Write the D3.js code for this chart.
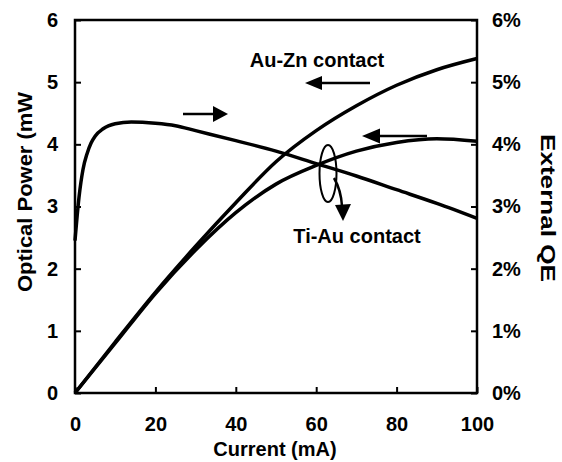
<!DOCTYPE html>
<html>
<head>
<meta charset="utf-8">
<script src="https://cdn.jsdelivr.net/npm/d3@7"></script>
<style>
  body { margin: 0; background: #fff; }
  text { font-family: "Liberation Sans", Arial, sans-serif; font-weight: bold; fill: #000; }
</style>
</head>
<body>
<div id="chart"></div>
<script>
// Data
const current = [0, 10, 20, 30, 40, 50, 60, 70, 80, 90, 100];
const powerAuZn = [0, 0.82, 1.62, 2.36, 3.06, 3.72, 4.22, 4.62, 4.95, 5.2, 5.38];
const powerTiAu = [0, 0.8, 1.6, 2.3, 2.9, 3.36, 3.66, 3.89, 4.03, 4.09, 4.05];

const qeCurrent = [0, 1, 2, 3, 4, 5, 7, 10, 14, 20, 25, 30, 40, 50, 60, 70, 80, 90, 100];
const qeValues = [0.0245, 0.0315, 0.036, 0.0385, 0.0402, 0.0413, 0.0425, 0.0433, 0.0436, 0.0434, 0.043, 0.0422, 0.0406, 0.0389, 0.0369, 0.0349, 0.0327, 0.0305, 0.0281];

const xTicks = [0, 20, 40, 60, 80, 100];
const yTicks = [0, 1, 2, 3, 4, 5, 6];
const y2Ticks = [0, 0.01, 0.02, 0.03, 0.04, 0.05, 0.06];

const width = 562, height = 462;
const margin = { top: 20, right: 85, bottom: 69, left: 75 };

const svg = d3.select("#chart")
  .append("svg")
  .attr("width", width)
  .attr("height", height);

// Scales
const x = d3.scaleLinear().domain([0, 100]).range([margin.left, width - margin.right]);
const y = d3.scaleLinear().domain([0, 6]).range([height - margin.bottom, margin.top]);
const y2 = d3.scaleLinear().domain([0, 0.06]).range([height - margin.bottom, margin.top]);

// Axes (ticks pointing inward)
const xAxis = svg.append("g")
  .attr("transform", "translate(0," + (height - margin.bottom) + ")")
  .call(d3.axisBottom(x).tickValues(xTicks).tickSize(-6).tickPadding(24));

const yAxis = svg.append("g")
  .attr("transform", "translate(" + margin.left + ",0)")
  .call(d3.axisLeft(y).tickValues(yTicks).tickSize(-6).tickPadding(17).tickFormat(d3.format("d")));

const y2Axis = svg.append("g")
  .attr("transform", "translate(" + (width - margin.right) + ",0)")
  .call(d3.axisRight(y2).tickValues(y2Ticks).tickSize(-6).tickPadding(15).tickFormat(d3.format(".0%")));

[xAxis, yAxis, y2Axis].forEach(function (g) {
  g.select(".domain").remove();
  g.selectAll(".tick line").attr("stroke", "#000").attr("stroke-width", 2);
  g.selectAll(".tick text").style("font-size", "20px").attr("fill", "#000");
});

// Frame
svg.append("rect")
  .attr("x", margin.left)
  .attr("y", margin.top)
  .attr("width", width - margin.left - margin.right)
  .attr("height", height - margin.top - margin.bottom)
  .attr("fill", "none")
  .attr("stroke", "#000")
  .attr("stroke-width", 2.5);

// Curves
const powerLine = d3.line()
  .x(function (d, i) { return x(current[i]); })
  .y(function (d) { return y(d); })
  .curve(d3.curveMonotoneX);

const qeLine = d3.line()
  .x(function (d, i) { return x(qeCurrent[i]); })
  .y(function (d) { return y2(d); })
  .curve(d3.curveMonotoneX);

[powerAuZn, powerTiAu].forEach(function (series) {
  svg.append("path")
    .datum(series)
    .attr("d", powerLine)
    .attr("fill", "none")
    .attr("stroke", "#000")
    .attr("stroke-width", 3.5);
});

svg.append("path")
  .datum(qeValues)
  .attr("d", qeLine)
  .attr("fill", "none")
  .attr("stroke", "#000")
  .attr("stroke-width", 3.5);

// Axis titles
svg.append("text")
  .attr("x", 275)
  .attr("y", 456)
  .attr("text-anchor", "middle")
  .style("font-size", "20px")
  .text("Current (mA)");

svg.append("text")
  .attr("transform", "translate(32,192) rotate(-90)")
  .attr("text-anchor", "middle")
  .attr("textLength", 200)
  .attr("lengthAdjust", "spacingAndGlyphs")
  .style("font-size", "20px")
  .text("Optical Power (mW");

svg.append("text")
  .attr("transform", "translate(541,208) rotate(90)")
  .attr("text-anchor", "middle")
  .attr("textLength", 148)
  .attr("lengthAdjust", "spacingAndGlyphs")
  .style("font-size", "20px")
  .text("External QE");

// Annotations
function arrow(x1, x2, yy, head, half) {
  const dir = x2 > x1 ? 1 : -1;
  svg.append("line")
    .attr("x1", x1).attr("y1", yy)
    .attr("x2", x2 - dir * head).attr("y2", yy)
    .attr("stroke", "#000").attr("stroke-width", 2.5);
  svg.append("path")
    .attr("d", "M" + x2 + "," + yy + "L" + (x2 - dir * head) + "," + (yy - half) + "L" + (x2 - dir * head) + "," + (yy + half) + "Z")
    .attr("fill", "#000");
}

svg.append("text")
  .attr("x", 317).attr("y", 67)
  .attr("text-anchor", "middle")
  .style("font-size", "20px")
  .text("Au-Zn contact");

arrow(370, 305, 83, 17, 7);
arrow(183, 228, 114, 15, 8);
arrow(427, 362, 136, 18, 7.5);

svg.append("ellipse")
  .attr("cx", 328).attr("cy", 173.5)
  .attr("rx", 8.5).attr("ry", 28.5)
  .attr("fill", "none")
  .attr("stroke", "#000")
  .attr("stroke-width", 2);

svg.append("path")
  .attr("d", "M334,178 Q341,190 342,206")
  .attr("fill", "none")
  .attr("stroke", "#000")
  .attr("stroke-width", 2.5);

svg.append("path")
  .attr("d", "M343,221 L335,205 L351,204 Z")
  .attr("fill", "#000");

svg.append("text")
  .attr("x", 357).attr("y", 243)
  .attr("text-anchor", "middle")
  .style("font-size", "20px")
  .text("Ti-Au contact");
</script>
</body>
</html>
